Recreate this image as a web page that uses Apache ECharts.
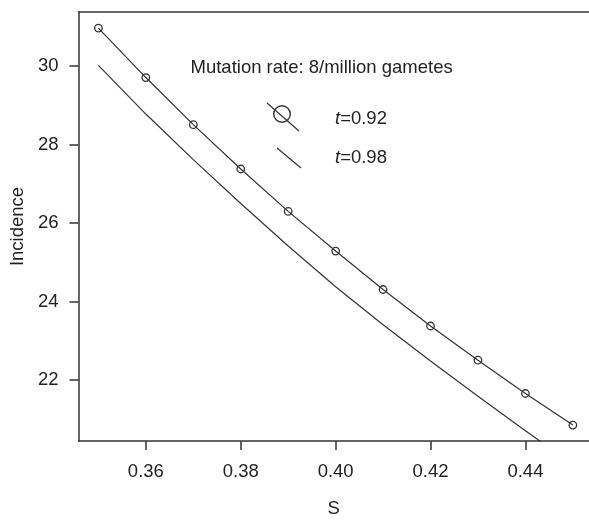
<!DOCTYPE html>
<html>
<head>
<meta charset="utf-8">
<script src="https://cdn.jsdelivr.net/npm/echarts@6/dist/echarts.min.js"></script>
<style>
html,body{margin:0;padding:0;background:#fff;}
#chart{width:589px;height:523px;}
</style>
</head>
<body>
<div id="chart"></div>
<script>
const sValues = [0.35, 0.36, 0.37, 0.38, 0.39, 0.40, 0.41, 0.42, 0.43, 0.44, 0.45];
const incidenceT092 = [30.97, 29.71, 28.51, 27.38, 26.30, 25.29, 24.31, 23.38, 22.51, 21.66, 20.855];
const incidenceT098 = [30.02, 28.78, 27.62, 26.50, 25.42, 24.38, 23.41, 22.49, 21.59, 20.71, 19.86];
const xTicks = [0.36, 0.38, 0.40, 0.42, 0.44];
const yTicks = [22, 24, 26, 28, 30];
const annotation = 'Mutation rate: 8/million gametes';
const legendLabels = ['0.92', '0.98'];

const FONT = '"Liberation Sans", Arial, Helvetica, sans-serif';
const FS = 18.5;
const INK = '#333';
const TXT = '#222';
const chart = echarts.init(document.getElementById('chart'), null, {renderer: 'canvas'});

const pair = (ys) => sValues.map((s, i) => [s, ys[i]]);

chart.setOption({
  animation: false,
  backgroundColor: '#fff',
  grid: {left: 74, top: 12, right: 0, bottom: 63, containLabel: false},
  xAxis: [{
    type: 'value', min: 0.3458, max: 0.4534,
    name: 'S', nameLocation: 'middle', nameGap: 58,
    nameTextStyle: {fontFamily: FONT, fontSize: FS, color: TXT},
    splitLine: {show: false},
    axisLine: {show: true, onZero: false, lineStyle: {color: INK, width: 1.5}},
    axisTick: {show: true, length: 9, lineStyle: {color: INK, width: 1.5}, customValues: xTicks},
    axisLabel: {fontFamily: FONT, fontSize: FS, color: TXT, margin: 21,
      customValues: xTicks, formatter: v => v.toFixed(2)}
  }, {
    type: 'value', position: 'top', min: 0.3458, max: 0.4534,
    splitLine: {show: false},
    axisLine: {show: true, onZero: false, lineStyle: {color: INK, width: 1.5}},
    axisTick: {show: false}, axisLabel: {show: false}
  }],
  yAxis: {
    type: 'value', min: 20.45, max: 31.38,
    name: 'Incidence', nameLocation: 'middle', nameGap: 51,
    nameTextStyle: {fontFamily: FONT, fontSize: FS, color: TXT},
    splitLine: {show: false},
    axisLine: {show: true, onZero: false, lineStyle: {color: INK, width: 1.5}},
    axisTick: {show: true, length: 9, lineStyle: {color: INK, width: 1.5}, customValues: yTicks},
    axisLabel: {fontFamily: FONT, fontSize: FS, color: TXT, margin: 20,
      customValues: yTicks, formatter: v => String(v)}
  },
  series: [{
    name: 't=0.92', type: 'line', data: pair(incidenceT092), clip: true,
    symbol: 'circle', symbolSize: 7.5, showAllSymbol: true,
    lineStyle: {color: INK, width: 1.2},
    itemStyle: {color: 'rgba(0,0,0,0)', borderColor: INK, borderWidth: 1.3},
    z: 3
  }, {
    name: 't=0.98', type: 'line', data: pair(incidenceT098), clip: true,
    symbol: 'none',
    lineStyle: {color: INK, width: 1.2}
  }],
  graphic: [
    {type: 'text', x: 190.5, y: 67.5, style: {text: annotation, font: FS + 'px ' + FONT, fill: TXT, align: 'left', verticalAlign: 'middle'}},
    {type: 'line', shape: {x1: 267, y1: 103, x2: 299, y2: 131}, style: {stroke: INK, lineWidth: 1.2}},
    {type: 'circle', shape: {cx: 282, cy: 114, r: 8.3}, style: {stroke: INK, fill: 'rgba(0,0,0,0)', lineWidth: 1.4}},
    {type: 'line', shape: {x1: 277, y1: 148, x2: 301, y2: 168}, style: {stroke: INK, lineWidth: 1.2}},
    {type: 'text', x: 335, y: 118.5, style: {
      text: '{i|t}{n|=' + legendLabels[0] + '}', align: 'left', verticalAlign: 'middle',
      rich: {i: {font: 'italic ' + FS + 'px ' + FONT, fill: TXT}, n: {font: FS + 'px ' + FONT, fill: TXT}}}},
    {type: 'text', x: 335, y: 157.5, style: {
      text: '{i|t}{n|=' + legendLabels[1] + '}', align: 'left', verticalAlign: 'middle',
      rich: {i: {font: 'italic ' + FS + 'px ' + FONT, fill: TXT}, n: {font: FS + 'px ' + FONT, fill: TXT}}}}
  ]
});
</script>
</body>
</html>
